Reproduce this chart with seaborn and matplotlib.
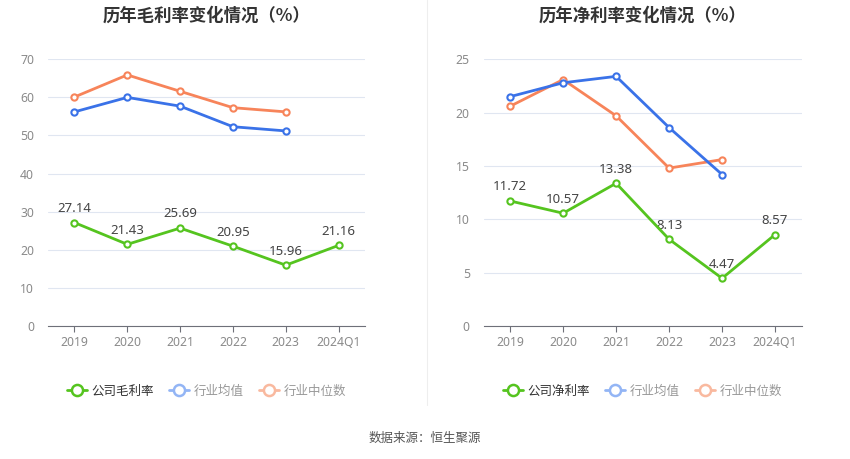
import matplotlib
matplotlib.use("Agg")
import matplotlib.pyplot as plt
from matplotlib.lines import Line2D
import seaborn as sns
import pandas as pd

years = ["2019", "2020", "2021", "2022", "2023", "2024Q1"]
ind_years = ["2019", "2020", "2021", "2022", "2023"]

gross_company = [27.14, 21.43, 25.69, 20.95, 15.96, 21.16]
gross_ind_mean = [56.2, 60.0, 57.7, 52.3, 51.2]
gross_ind_median = [60.1, 65.9, 61.6, 57.3, 56.2]

net_company = [11.72, 10.57, 13.38, 8.13, 4.47, 8.57]
net_ind_mean = [21.5, 22.8, 23.4, 18.6, 14.2]
net_ind_median = [20.6, 23.1, 19.7, 14.8, 15.6]

titles = ["历年毛利率变化情况（%）", "历年净利率变化情况（%）"]
company_labels = ["公司毛利率", "公司净利率"]
ind_labels = ["行业均值", "行业中位数"]
source_text = "数据来源：恒生聚源"

GREEN = "#55c41f"
BLUE = "#3a72e8"
ORANGE = "#f7845a"
GREEN_L = "#55c41f"
BLUE_L = "#93b5f5"
ORANGE_L = "#f9b99f"

sns.set_theme(style="white")
plt.rcParams["font.family"] = ["Noto Sans CJK SC", "DejaVu Sans"]
NUM_FONT = ["Noto Sans", "DejaVu Sans"]

fig = plt.figure(figsize=(8.5, 4.59), dpi=100)
ax1 = fig.add_axes([0.0565, 0.2898, 0.373, 0.581])
ax2 = fig.add_axes([0.569, 0.2898, 0.374, 0.581])

configs = [
    (ax1, gross_company, gross_ind_mean, gross_ind_median, 70, 10),
    (ax2, net_company, net_ind_mean, net_ind_median, 25, 5),
]

for i, (ax, comp, mean, med, ymax, step) in enumerate(configs):
    df_c = pd.DataFrame({"year": years, "value": comp})
    df_m = pd.DataFrame({"year": ind_years, "value": mean})
    df_d = pd.DataFrame({"year": ind_years, "value": med})
    style = dict(marker="o", markersize=4.5, markerfacecolor="white",
                 markeredgewidth=1.5, linewidth=2)
    sns.lineplot(data=df_c, x="year", y="value", ax=ax, color=GREEN,
                 markeredgecolor=GREEN, zorder=5, **style)
    sns.lineplot(data=df_m, x="year", y="value", ax=ax, color=BLUE,
                 markeredgecolor=BLUE, zorder=4, **style)
    sns.lineplot(data=df_d, x="year", y="value", ax=ax, color=ORANGE,
                 markeredgecolor=ORANGE, zorder=3, **style)
    for j, v in enumerate(comp):
        ax.annotate(f"{v:.2f}", (j, v), xytext=(0, 5.5), textcoords="offset points",
                    ha="center", va="bottom", fontsize=9.5, color="#444444",
                    family=NUM_FONT)
    ax.set_xlim(-0.5, 5.5)
    ax.set_ylim(0, ymax)
    ax.set_yticks(range(0, ymax + 1, step))
    ax.set_xlabel("")
    ax.set_ylabel("")
    ax.grid(axis="y", color="#e0e6f1", linewidth=0.8)
    ax.set_axisbelow(True)
    for s in ["top", "right", "left"]:
        ax.spines[s].set_visible(False)
    ax.spines["bottom"].set_color("#6e7079")
    ax.spines["bottom"].set_linewidth(0.8)
    ax.tick_params(axis="x", colors="#6e7079", labelcolor="#8a8a8a", labelsize=8.8,
                   length=4, width=0.8, direction="out", bottom=True, pad=3)
    ax.tick_params(axis="y", labelcolor="#8a8a8a", labelsize=8.8, length=0, pad=10)
    for lab in ax.get_xticklabels() + ax.get_yticklabels():
        lab.set_family(NUM_FONT)
    ax.set_title(titles[i], fontsize=12.5, fontweight="bold", color="#333333", pad=28)

    handles = [
        Line2D([], [], color=GREEN_L, marker="o", markersize=8, markerfacecolor="white",
               markeredgewidth=1.8, linewidth=2),
        Line2D([], [], color=BLUE_L, marker="o", markersize=8, markerfacecolor="white",
               markeredgewidth=1.8, linewidth=2),
        Line2D([], [], color=ORANGE_L, marker="o", markersize=8, markerfacecolor="white",
               markeredgewidth=1.8, linewidth=2),
    ]
    leg = ax.legend(handles, [company_labels[i]] + ind_labels, loc="center",
                    bbox_to_anchor=(0.5, -0.245), ncol=3, frameon=False,
                    fontsize=9, handlelength=1.6, handletextpad=0.4, columnspacing=1.2)
    for k, t in enumerate(leg.get_texts()):
        t.set_color("#333333" if k == 0 else "#999999")

fig.add_artist(Line2D([427 / 850, 427 / 850], [1 - 405 / 459, 1.0],
                      color="#eeeeee", linewidth=0.8, transform=fig.transFigure))
fig.text(0.5, 1 - 438 / 459, source_text, ha="center", va="center",
         fontsize=9, color="#555555")

fig.savefig("out.png", dpi=100)
